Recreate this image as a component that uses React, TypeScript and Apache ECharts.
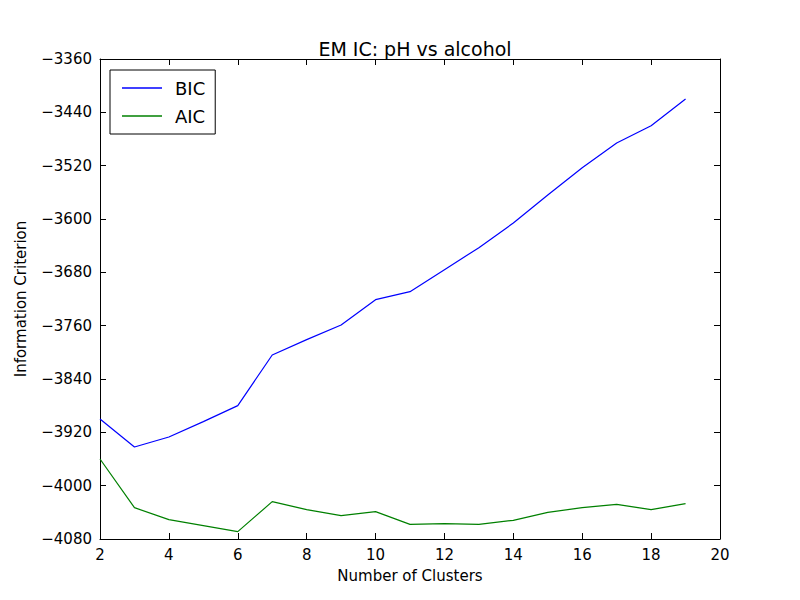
import React, { useEffect, useRef } from 'react';
import * as echarts from 'echarts';

const clusters = [2, 3, 4, 5, 6, 7, 8, 9, 10, 11, 12, 13, 14, 15, 16, 17, 18, 19];
const bic = [-3900, -3942, -3927, -3904, -3880, -3804, -3781, -3759, -3721, -3709, -3676, -3643, -3606, -3564, -3523, -3486, -3460, -3420];
const aic = [-3960, -4033, -4051, -4060, -4069, -4024, -4036, -4045, -4039, -4058, -4057, -4058, -4052, -4040, -4033, -4028, -4036, -4027];

const minus = (v: number) => String(v).replace('-', '\u2212');

const App: React.FC = () => {
  const chartRef = useRef<HTMLDivElement>(null);

  useEffect(() => {
    if (!chartRef.current) return;
    const chart = echarts.init(chartRef.current, undefined, { renderer: 'svg' });
    const font = 'DejaVu Sans';
    const xBase = {
      type: 'value', min: 2, max: 20, interval: 2,
      axisLine: { show: true, lineStyle: { color: '#000' } },
      axisTick: { inside: true, length: 6, lineStyle: { color: '#000' } },
      splitLine: { show: false },
    };
    const yBase = {
      type: 'value', min: -4080, max: -3360, interval: 80,
      axisLine: { show: true, lineStyle: { color: '#000' } },
      axisTick: { inside: true, length: 6, lineStyle: { color: '#000' } },
      splitLine: { show: false },
    };
    chart.setOption({
      animation: false,
      textStyle: { fontFamily: font },
      title: {
        text: 'EM IC: pH vs alcohol', left: 410, top: 34, textAlign: 'center',
        textStyle: { fontSize: 19, fontWeight: 'normal', color: '#000', fontFamily: font },
      },
      grid: { left: 100, right: 80, top: 59, bottom: 61 },
      legend: {
        orient: 'vertical', left: 110, top: 70, padding: [9, 10, 9, 12],
        borderColor: '#000', borderWidth: 1, itemWidth: 40, itemGap: 10, icon: 'path://M0,0 L40,0 L40,1.5 L0,1.5 Z',
        textStyle: { fontSize: 18, color: '#000', fontFamily: font, padding: [0, 0, 0, 8] },
        data: ['BIC', 'AIC'],
      },
      xAxis: [
        { ...xBase, name: 'Number of Clusters', nameLocation: 'middle', nameGap: 29,
          nameTextStyle: { fontSize: 15, color: '#000' },
          axisLabel: { fontSize: 15, color: '#000', margin: 8 } },
        { ...xBase, position: 'top', axisLabel: { show: false } },
      ],
      yAxis: [
        { ...yBase, name: 'Information Criterion', nameLocation: 'middle', nameGap: 72,
          nameTextStyle: { fontSize: 15, color: '#000' },
          axisLabel: { fontSize: 15, color: '#000', margin: 8, formatter: minus } },
        { ...yBase, position: 'right', axisLabel: { show: false } },
      ],
      series: [
        { name: 'BIC', type: 'line', data: clusters.map((c, i) => [c, bic[i]]), showSymbol: false,
          lineStyle: { color: '#0000ff', width: 1.2 }, itemStyle: { color: '#0000ff' } },
        { name: 'AIC', type: 'line', data: clusters.map((c, i) => [c, aic[i]]), showSymbol: false,
          lineStyle: { color: '#008000', width: 1.2 }, itemStyle: { color: '#008000' } },
      ],
    });
    return () => chart.dispose();
  }, []);

  return <div ref={chartRef} style={{ position: 'absolute', left: 0, top: 0, width: 800, height: 600, background: '#fff' }} />;
};

export default App;
